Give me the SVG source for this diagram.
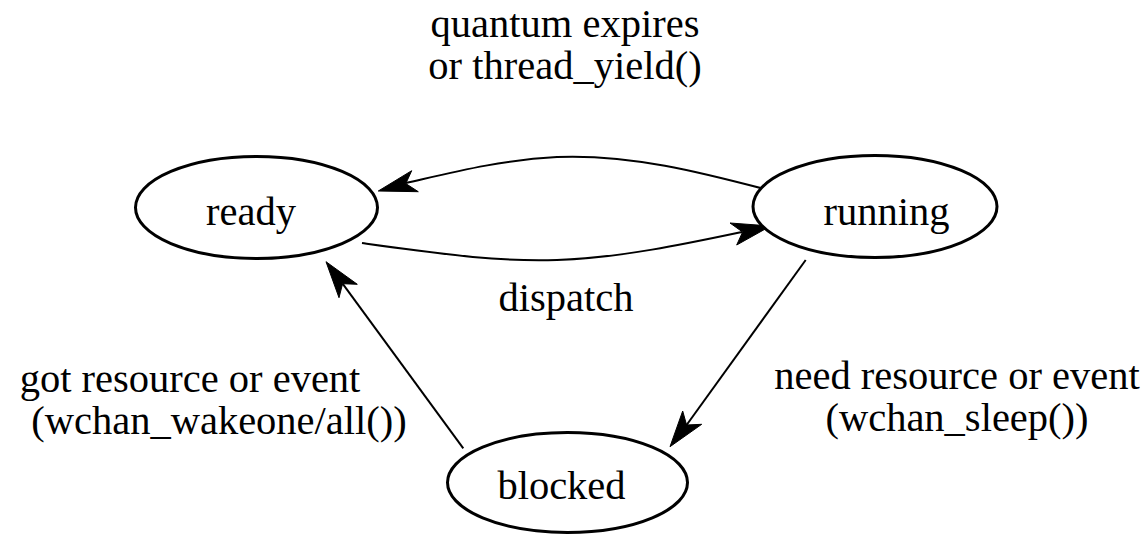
<svg xmlns="http://www.w3.org/2000/svg" width="1146" height="534" viewBox="0 0 1146 534">
<style>
.node ellipse{fill:#fff;stroke:#000;stroke-width:3}
text{font-family:"Liberation Serif","Times New Roman",serif;font-size:40.5px;fill:#000;text-anchor:middle}
.edge path{fill:none;stroke:#000;stroke-width:2}
.edge polygon{fill:#000;stroke:#000;stroke-width:1}
</style>
<rect width="1146" height="534" fill="#fff"/>
<g id="connectors">
<g class="edge" id="running-ready">
<path d="M772,191 C 700,172 630,154 557,157 C 500,160 450,173 406,183"/>
<polygon points="378.3,191 411.7,170.7 405.8,183.6 418.3,191.7"/>
</g>
<g class="edge" id="ready-running">
<path d="M362,243 C 450,255 500,262 557,260 C 620,258 690,243 742,232"/>
<polygon points="770.7,226 736.7,245 742.6,232 730,223"/>
</g>
<g class="edge" id="running-blocked">
<path d="M805.7,260 L686.6,425"/>
<polygon points="670,446.7 701.7,424.3 686.6,425 682.7,411"/>
</g>
<g class="edge" id="blocked-ready">
<path d="M463.3,448.3 L342.6,283.7"/>
<polygon points="326,261.7 357.3,284.3 342.6,283.7 339,297.7"/>
</g>
<text x="565" y="37">quantum expires</text>
<text x="565" y="79">or thread_yield()</text>
<text x="566" y="311">dispatch</text>
<text x="957" y="389">need resource or event</text>
<text x="957" y="431">(wchan_sleep())</text>
<text x="190" y="392">got resource or event</text>
<text x="219" y="434">(wchan_wakeone/all())</text>
</g>
<g class="node" id="ready">
<ellipse cx="256.5" cy="207.5" rx="121" ry="51"/>
<text x="251" y="225">ready</text>
</g>
<g class="node" id="running">
<ellipse cx="875" cy="206.5" rx="122" ry="51"/>
<text x="886.5" y="225">running</text>
</g>
<g class="node" id="blocked">
<ellipse cx="567.5" cy="482.5" rx="120" ry="50"/>
<text x="561.5" y="499">blocked</text>
</g>
</svg>
